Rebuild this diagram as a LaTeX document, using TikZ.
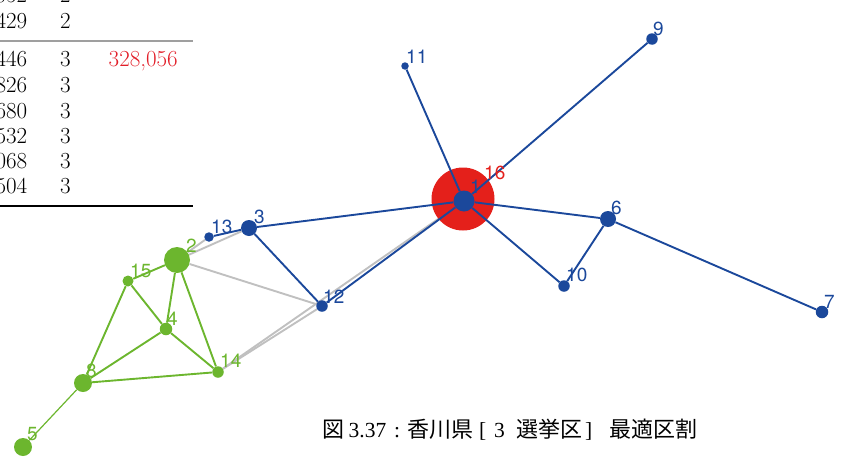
\documentclass[tikz,border=0pt]{standalone}
\usepackage{fontspec}
\newfontfamily\labfont{TeX Gyre Heros}
\newfontfamily\cjk{Noto Sans CJK JP}
\newfontfamily\capser{Liberation Serif}
\definecolor{nblue}{RGB}{27,72,155}
\definecolor{ngreen}{RGB}{108,182,46}
\definecolor{nred}{RGB}{228,32,27}
\definecolor{ngrey}{RGB}{192,192,192}
\definecolor{tred}{RGB}{226,30,40}
\pgfdeclarelayer{greyl}
\pgfdeclarelayer{redl}
\pgfdeclarelayer{edgel}
\pgfsetlayers{greyl,redl,edgel,main}
\tikzset{
  vert/.style={circle, inner sep=0pt, minimum size=#1},
  bv/.style={vert=#1, fill=nblue},
  gv/.style={vert=#1, fill=ngreen},
  be/.style={draw=nblue, line width=1.9pt},
  ge/.style={draw=ngreen, line width=1.9pt},
  gthin/.style={draw=ngreen, line width=1.2pt},
  gre/.style={draw=ngrey, line width=1.9pt},
  lab/.style={anchor=base west, inner sep=0pt, font=\labfont\fontsize{19}{21}\selectfont},
  blab/.style={lab, text=nblue},
  glab/.style={lab, text=ngreen},
  tcell/.style={inner sep=0pt, font=\fontsize{23}{27}\selectfont},
  tnum/.style={tcell, anchor=base east},
  tdis/.style={tcell, anchor=base west},
  cjkpart/.style={anchor=base west, inner sep=0pt, font=\cjk\fontsize{22}{24}\selectfont},
  latpart/.style={anchor=base west, inner sep=0pt, font=\capser\fontsize{21.5}{24}\selectfont}
}
\begin{document}
\begin{tikzpicture}[x=1pt,y=-1pt]
\useasboundingbox (0,0) rectangle (854,466);
\clip (0,0) rectangle (854,466);
% table
\node[tnum] (r0a) at (27.5,2.7) {052};
\node[tdis] (r0b) at (60,2.7) {2};
\node[tnum] (r1a) at (27.5,28) {429};
\node[tdis] (r1b) at (60,28) {2};
\draw[gray!75, line width=1.6pt] (0,41) -- (193,41);
\node[tnum] (r2a) at (27.5,66.7) {446};
\node[tdis] (r2b) at (60,66.7) {3};
\node[tnum, text=tred] (r2c) at (178,66.7) {328,056};
\node[tnum] (r3a) at (27.5,92.7) {826};
\node[tdis] (r3b) at (60,92.7) {3};
\node[tnum] (r4a) at (27.5,118) {680};
\node[tdis] (r4b) at (60,118) {3};
\node[tnum] (r5a) at (27.5,143) {532};
\node[tdis] (r5b) at (60,143) {3};
\node[tnum] (r6a) at (27.5,168) {068};
\node[tdis] (r6b) at (60,168) {3};
\node[tnum] (r7a) at (27.5,193) {504};
\node[tdis] (r7b) at (60,193) {3};
\draw[black, line width=2pt] (0,205.5) -- (193,205.5);
% red highlight
\begin{pgfonlayer}{redl}
\node[vert=63, fill=nred] (n16) at (463,199) {};
\end{pgfonlayer}
% vertices
\node[bv=21] (n1) at (464,201) {};
\node[gv=26] (n2) at (177,260) {};
\node[bv=16] (n3) at (249,228) {};
\node[gv=12.5] (n4) at (166,329) {};
\node[gv=18] (n5) at (23,447) {};
\node[bv=16] (n6) at (608,219) {};
\node[bv=12.5] (n7) at (822,312) {};
\node[gv=18] (n8) at (83,383) {};
\node[bv=11.5] (n9) at (652,39) {};
\node[bv=11.5] (n10) at (564,286) {};
\node[bv=7.5] (n11) at (405,66) {};
\node[bv=11.5] (n12) at (322,306) {};
\node[bv=9.5] (n13) at (209,237) {};
\node[gv=11.5] (n14) at (218,372) {};
\node[gv=11] (n15) at (128,281) {};
% edges
\begin{pgfonlayer}{greyl}
\draw[gre] (n2) -- (n13);
\draw[gre] (n2) -- (n3);
\draw[gre] (n2) -- (n12);
\draw[gre] (n14) -- (n12);
\draw[gre] (n14) -- (n1);
\end{pgfonlayer}
\begin{pgfonlayer}{edgel}
\draw[be] (n1) -- (n11);
\draw[be] (n1) -- (n9);
\draw[be] (n1) -- (n3);
\draw[be] (n1) -- (n6);
\draw[be] (n1) -- (n10);
\draw[be] (n1) -- (n12);
\draw[be] (n3) -- (n12);
\draw[be] (n3) -- (n13);
\draw[be] (n6) -- (n10);
\draw[be] (n6) -- (n7);
\draw[ge] (n2) -- (n15);
\draw[ge] (n2) -- (n4);
\draw[ge] (n2) -- (n14);
\draw[ge] (n15) -- (n4);
\draw[ge] (n15) -- (n8);
\draw[ge] (n4) -- (n8);
\draw[ge] (n4) -- (n14);
\draw[ge] (n8) -- (n14);
\draw[gthin] (n8) -- (n5);
\end{pgfonlayer}
% labels
\node[blab] (l1) at (470,193) {1};
\node[glab] (l2) at (186,252) {2};
\node[blab] (l3) at (254,223) {3};
\node[glab] (l4) at (167,325) {4};
\node[glab] (l5) at (27,440) {5};
\node[blab] (l6) at (611,214) {6};
\node[blab] (l7) at (824,308) {7};
\node[glab] (l8) at (86,377) {8};
\node[blab] (l9) at (653,35) {9};
\node[blab] (l10) at (566,281) {10};
\node[blab] (l11) at (406,63) {11};
\node[blab] (l12) at (323,303) {12};
\node[blab] (l13) at (211,233) {13};
\node[glab] (l14) at (220,367) {14};
\node[glab] (l15) at (130,277) {15};
\node[lab, text=nred] (l16) at (484,179) {16};
% caption
\node[cjkpart] (cap1) at (322,437) {図};
\node[latpart] (cap2) at (348.5,437) {3.37};
\node[latpart] (cap3) at (394,437) {:};
\node[cjkpart] (cap4) at (407,437) {香川県};
\node[latpart] (cap5) at (479,437) {[};
\node[latpart] (cap6) at (494,437) {3};
\node[cjkpart] (cap7) at (516,437) {選挙区};
\node[latpart] (cap8) at (585,437) {]};
\node[cjkpart] (cap9) at (609,437) {最適区割};
\end{tikzpicture}
\end{document}
